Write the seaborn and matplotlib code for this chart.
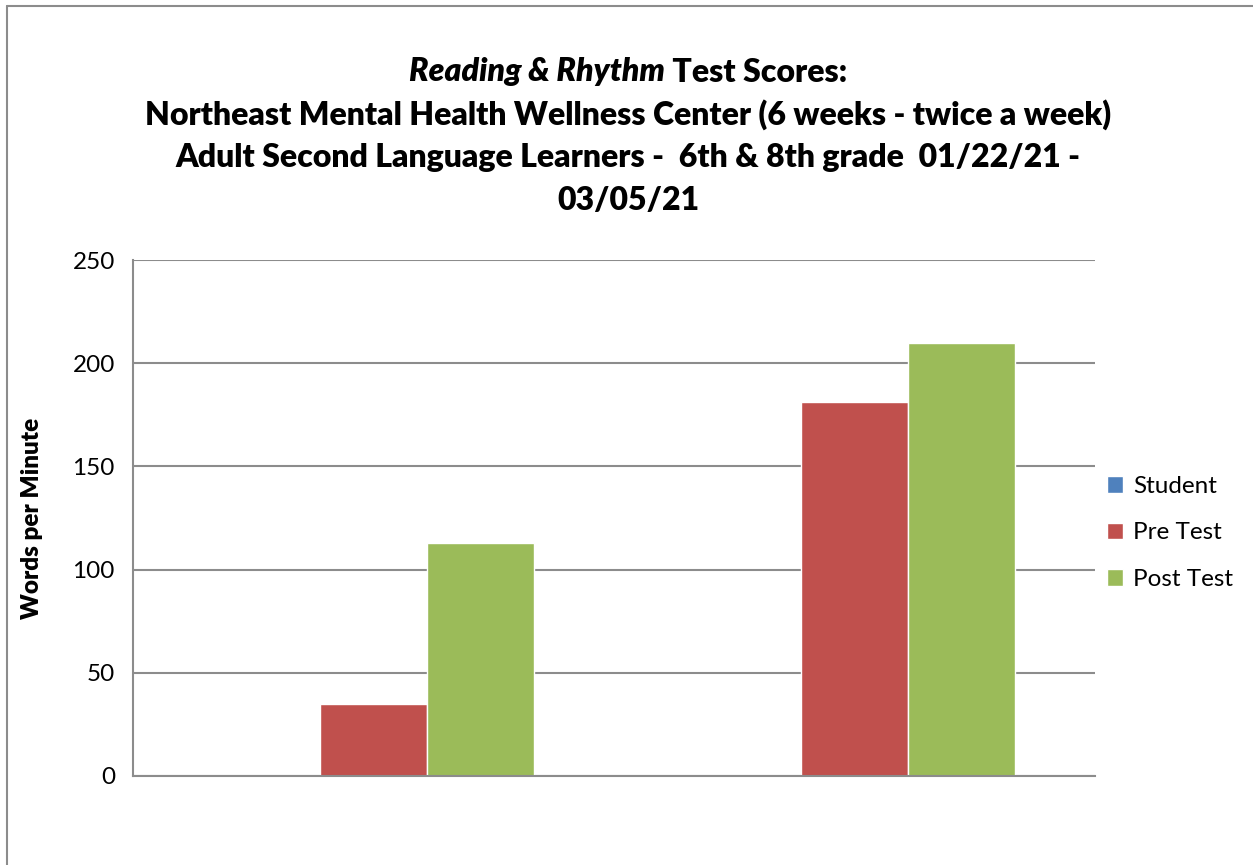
import pandas as pd
import numpy as np
import matplotlib.pyplot as plt
import seaborn as sns

# data
students = ["Student 1", "Student 2"]
student_vals = [0, 0]
pre_test = [35, 181]
post_test = [113, 210]
series = ["Student", "Pre Test", "Post Test"]
colors = ["#4F81BD", "#C0504D", "#9BBB59"]
yticks = [0, 50, 100, 150, 200, 250]

df = pd.DataFrame({
    "Name": students * 3,
    "Series": np.repeat(series, len(students)),
    "Score": student_vals + pre_test + post_test,
})

sns.set_style("white")
plt.rcParams["font.family"] = ["Lato", "DejaVu Sans"]
plt.rcParams["text.color"] = "black"
plt.rcParams["ytick.color"] = "black"
plt.rcParams["axes.labelcolor"] = "black"

fig = plt.figure(figsize=(12.53, 8.65), dpi=100)
ax = fig.add_axes([0.1061, 0.1029, 0.7678, 0.5965])

sns.barplot(data=df, x="Name", y="Score", hue="Series", palette=colors,
            width=2 / 3, gap=0, saturation=1, ax=ax, legend=True)

ax.set_ylim(0, 250)
ax.set_xlim(-0.5, 1.5)
ax.set_yticks(yticks)
ax.set_yticklabels([str(t) for t in yticks], fontsize=17.5)
ax.set_xticks([])
ax.set_xlabel("")
ax.set_ylabel("Words per Minute", fontsize=17.5, fontweight="heavy")
ax.yaxis.set_label_coords(-(133 - 43) / 962, 0.5)
ax.yaxis.grid(True, color="#8C8C8C", linewidth=1.5)
ax.set_axisbelow(True)
ax.tick_params(axis="y", length=0, pad=13)
for side in ["top", "right"]:
    ax.spines[side].set_visible(False)
for side in ["left", "bottom"]:
    ax.spines[side].set_color("#8C8C8C")
    ax.spines[side].set_linewidth(1.5)

leg = ax.legend(loc="center left", bbox_to_anchor=(0.99, 0.471), frameon=False,
                fontsize=17.5, handlelength=0.65, handleheight=0.65,
                handletextpad=0.4, labelspacing=1.05)

# title with mixed styles on the first line
cx = 628 / 1253
fs = 23
t1 = fig.text(0, 1 - 72 / 865, "Reading & Rhythm", fontsize=fs, fontweight="heavy",
              fontstyle="italic", ha="left", va="center")
t2 = fig.text(0, 1 - 72 / 865, " Test Scores:", fontsize=fs, fontweight="heavy",
              ha="left", va="center")
fig.canvas.draw()
r = fig.canvas.get_renderer()
w1 = t1.get_window_extent(r).width / fig.bbox.width
w2 = t2.get_window_extent(r).width / fig.bbox.width
x0 = cx - (w1 + w2) / 2
t1.set_x(x0)
t2.set_x(x0 + w1)

lines = ["Northeast Mental Health Wellness Center (6 weeks - twice a week)",
         "Adult Second Language Learners -  6th & 8th grade  01/22/21 -",
         "03/05/21"]
for i, line in enumerate(lines):
    fig.text(cx, 1 - (115 + 43 * i) / 865, line, fontsize=fs, fontweight="heavy",
             ha="center", va="center")

# outer chart border (left and top visible)
fig.add_artist(plt.Line2D([6.5 / 1253, 6.5 / 1253], [0, 1 - 5.5 / 865],
                          color="#8C8C8C", linewidth=1.5))
fig.add_artist(plt.Line2D([6.5 / 1253, 1], [1 - 5.5 / 865, 1 - 5.5 / 865],
                          color="#8C8C8C", linewidth=1.5))

plt.savefig("out.png", dpi=100)
